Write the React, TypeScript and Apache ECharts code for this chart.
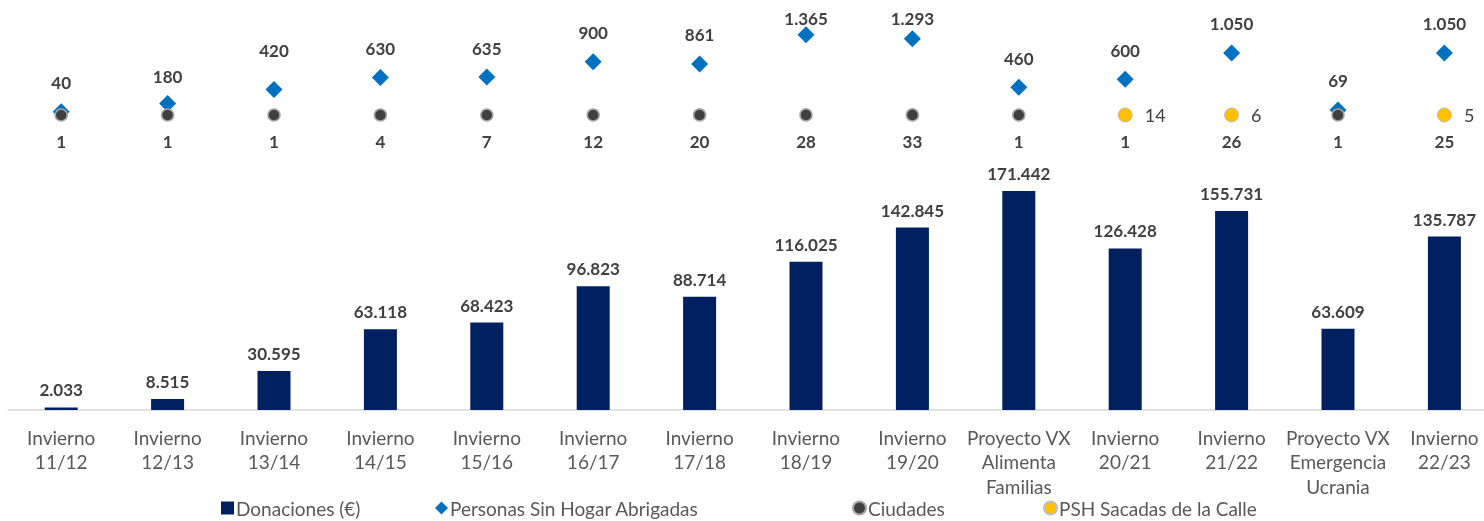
import React, { useEffect, useRef } from "react";
import * as echarts from "echarts";

const categories = [
  "Invierno\n11/12",
  "Invierno\n12/13",
  "Invierno\n13/14",
  "Invierno\n14/15",
  "Invierno\n15/16",
  "Invierno\n16/17",
  "Invierno\n17/18",
  "Invierno\n18/19",
  "Invierno\n19/20",
  "Proyecto VX\nAlimenta\nFamilias",
  "Invierno\n20/21",
  "Invierno\n21/22",
  "Proyecto VX\nEmergencia\nUcrania",
  "Invierno\n22/23",
];
const donaciones = [2033, 8515, 30595, 63118, 68423, 96823, 88714, 116025, 142845, 171442, 126428, 155731, 63609, 135787];
const personasAbrigadas = [40, 180, 420, 630, 635, 900, 861, 1365, 1293, 460, 600, 1050, 69, 1050];
const ciudades = [1, 1, 1, 4, 7, 12, 20, 28, 33, 1, 1, 26, 1, 25];
const pshSacadas: (number | null)[] = [null, null, null, null, null, null, null, null, null, null, 14, 6, null, 5];

// manual label nudges (layout only), by category index
const diamondLabelShift: Record<number, number> = { 1: 2, 2: -10, 7: 13, 8: 9 };

const FONT = "Lato";
const fmt = (v: number) => String(v).replace(/\B(?=(\d{3})+(?!\d))/g, ".");

export default function App() {
  const ref = useRef<HTMLDivElement>(null);
  useEffect(() => {
    document.body.style.overflow = "hidden";
    const chart = echarts.init(ref.current!, null, { renderer: "svg" });
    const labelBold = {
      show: true,
      fontFamily: FONT,
      fontWeight: "bold" as const,
      fontSize: 17,
      color: "#404040",
      formatter: (p: any) => fmt(p.value),
    };
    const legendBase = {
      top: 498,
      itemWidth: 13,
      itemHeight: 13,
      itemGap: 0,
      padding: 0,
      textStyle: { fontFamily: FONT, fontSize: 19, lineHeight: 20, color: "#595959", padding: [0, 0, 0, -3] },
    };
    chart.setOption({
      animation: false,
      grid: { left: 8, top: 10, width: 1489.6, height: 400, containLabel: false },
      legend: [
        { ...legendBase, left: 221, data: [{ name: "Donaciones (€)", icon: "rect" }] },
        { ...legendBase, left: 435, data: [{ name: "Personas Sin Hogar Abrigadas", icon: "diamond" }] },
        { ...legendBase, left: 852, data: [{ name: "Ciudades", icon: "circle" }] },
        { ...legendBase, left: 1043, data: [{ name: "PSH Sacadas de la Calle", icon: "circle" }] },
      ],
      xAxis: {
        type: "category",
        data: categories,
        axisLine: { lineStyle: { color: "#D9D9D9", width: 1.5 } },
        axisTick: { show: false },
        axisLabel: {
          interval: 0,
          margin: 15,
          fontFamily: FONT,
          fontSize: 19,
          lineHeight: 24.5,
          color: "#595959",
        },
      },
      yAxis: [
        { type: "value", min: 0, max: 313130, show: false, splitLine: { show: false } },
        { type: "value", min: -5095, max: 1790, show: false, splitLine: { show: false } },
        { type: "value", min: -100000, max: 35593, show: false, splitLine: { show: false } },
      ],
      series: [
        {
          name: "Donaciones (€)",
          type: "bar",
          data: donaciones,
          yAxisIndex: 0,
          barWidth: 33,
          itemStyle: { color: "#002060" },
          label: { ...labelBold, position: "top", distance: 9 },
        },
        {
          name: "Personas Sin Hogar Abrigadas",
          type: "scatter",
          data: personasAbrigadas.map((v, i) => ({
            value: v,
            label: { offset: [0, diamondLabelShift[i] || 0] },
          })),
          yAxisIndex: 1,
          symbol: "diamond",
          symbolSize: 17,
          itemStyle: { color: "#0070C0", opacity: 1 },
          label: { ...labelBold, position: "top", distance: 12 },
        },
        {
          name: "Ciudades",
          type: "scatter",
          data: ciudades,
          yAxisIndex: 2,
          symbol: "circle",
          symbolSize: 12,
          itemStyle: { color: "#404040", borderColor: "#A6A6A6", borderWidth: 1.5, opacity: 1 },
          label: { ...labelBold, position: "bottom", distance: 11 },
        },
        {
          name: "PSH Sacadas de la Calle",
          type: "scatter",
          data: pshSacadas,
          yAxisIndex: 2,
          symbol: "circle",
          symbolSize: 14,
          itemStyle: { color: "#FFC000", borderColor: "#BFBFBF", borderWidth: 1, opacity: 1 },
          label: {
            show: true,
            position: "right",
            distance: 12,
            fontFamily: FONT,
            fontSize: 18,
            color: "#404040",
            formatter: (p: any) => fmt(p.value),
          },
        },
      ],
    });
    return () => chart.dispose();
  }, []);
  return (
    <div
      ref={ref}
      style={{ position: "fixed", left: 0, top: 0, width: 1500, height: 521 }}
    />
  );
}
